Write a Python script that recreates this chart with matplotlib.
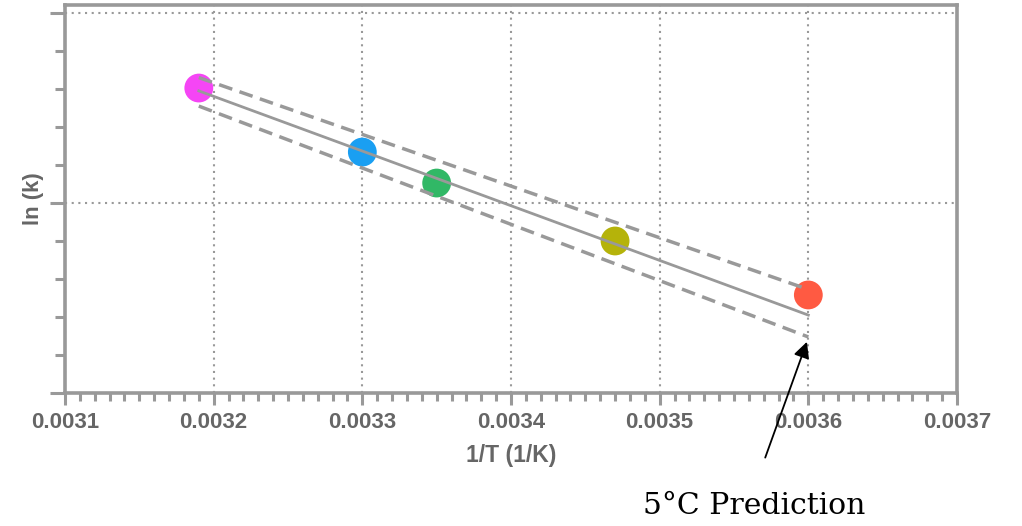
import matplotlib.pyplot as plt
import numpy as np
from matplotlib.ticker import MultipleLocator, NullFormatter

# data (y in arbitrary ln(k) units, no labels shown)
inv_T = [0.00319, 0.00330, 0.00335, 0.00347, 0.00360]
ln_k = [1.605, 1.268, 1.105, 0.800, 0.516]
colors = ['#f545f5', '#1a9ff2', '#31b866', '#b5b30a', '#ff5a42']

fit_x = [0.00319, 0.00360]
fit_y = [1.590, 0.410]
upper_y = [1.660, 0.545]
lower_y = [1.510, 0.295]

x_ticks = [0.0031, 0.0032, 0.0033, 0.0034, 0.0035, 0.0036, 0.0037]
x_labels = ['0.0031', '0.0032', '0.0033', '0.0034', '0.0035', '0.0036', '0.0037']

gray = '#999999'
label_gray = '#666666'

fig = plt.figure(figsize=(10.22, 5.26), dpi=100)
ax = fig.add_axes([65/1022, 1 - 393/526, (957-65)/1022, (393-5)/526])

# points
ax.scatter(inv_T, ln_k, s=430, c=colors, zorder=2, linewidths=0)

# fit + confidence lines on top of the points
ax.plot(fit_x, fit_y, color=gray, lw=2, zorder=3)
ax.plot(fit_x, upper_y, color=gray, lw=2.5, ls=(0, (4, 2.2)), zorder=3)
ax.plot(fit_x, lower_y, color=gray, lw=2.5, ls=(0, (4, 2.2)), zorder=3)

ax.set_xlim(0.0031, 0.0037)
ax.set_ylim(0, 2.042)

ax.xaxis.set_minor_locator(MultipleLocator(0.00001))
ax.yaxis.set_major_locator(MultipleLocator(1))
ax.yaxis.set_minor_locator(MultipleLocator(0.2))
ax.yaxis.set_major_formatter(NullFormatter())
ax.set_xticks(x_ticks)
ax.set_xticklabels(x_labels)

ax.grid(True, which='major', color=gray, lw=1.5, ls=(0, (1, 2.2)), zorder=1)

for s in ax.spines.values():
    s.set_color(gray)
    s.set_linewidth(2.6)

ax.tick_params(axis='x', which='major', direction='out', length=8.6, width=2.2,
               color=gray, labelsize=16, labelcolor=label_gray, pad=5)
ax.tick_params(axis='x', which='minor', direction='out', length=5.8, width=2.2, color=gray)
ax.tick_params(axis='y', which='major', direction='out', length=10.8, width=2.2, color=gray)
ax.tick_params(axis='y', which='minor', direction='out', length=7.2, width=2.2, color=gray)
for t in ax.get_xticklabels():
    t.set_fontweight('bold')
    t.set_family('Liberation Sans')

ax.set_xlabel('1/T (1/K)', fontsize=16.5, fontweight='bold', color=label_gray,
              family='Liberation Sans', labelpad=8)
ax.set_ylabel('ln (k)', fontsize=16, fontweight='bold', color=label_gray,
              family='Liberation Sans')
ax.yaxis.set_label_coords(-0.024, 0.5)

# annotation arrow pointing at the lower dashed line end
ax.annotate('', xy=(0.00360, 0.29), xytext=(0.003571, -0.34),
            arrowprops=dict(arrowstyle='-|>', color='black', lw=1.3,
                            mutation_scale=24, shrinkA=0, shrinkB=3),
            annotation_clip=False)
fig.text(754/1022, 1 - 514/526, '5°C Prediction', fontsize=21.5,
         family='DejaVu Serif', color='black', ha='center', va='baseline')

fig.savefig('out.png', dpi=100)
